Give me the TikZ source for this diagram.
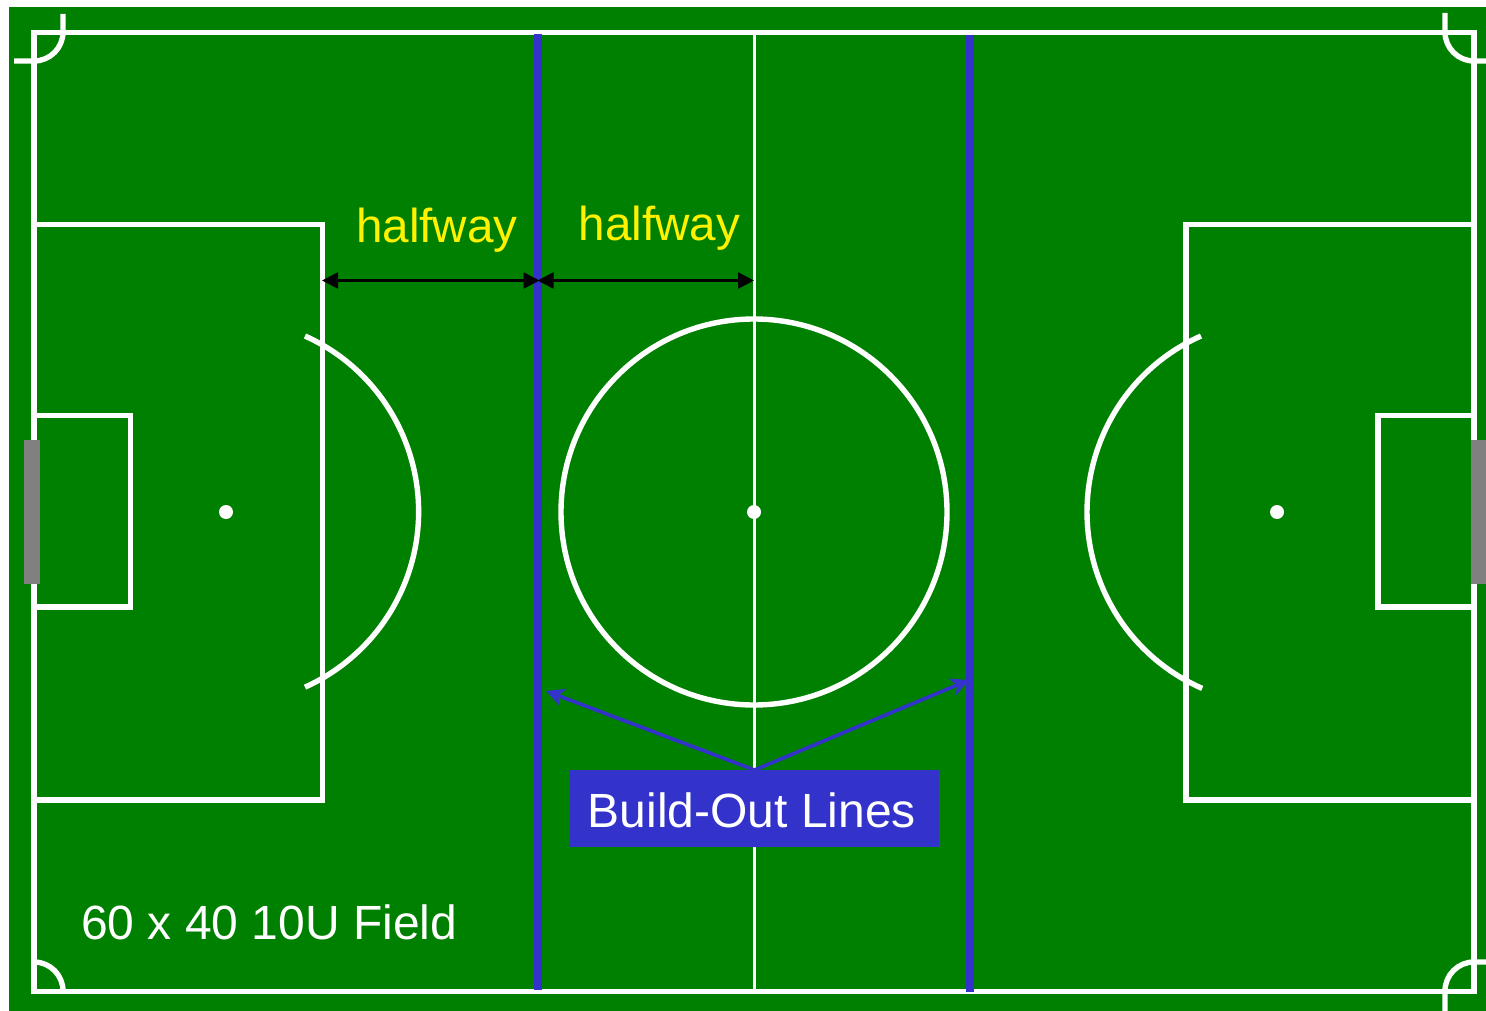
\documentclass[tikz,border=0pt]{standalone}
\usepackage{fontspec}
\setmainfont{Liberation Sans}
\usetikzlibrary{arrows.meta}
\definecolor{pitch}{HTML}{008000}
\definecolor{buildblue}{HTML}{3333CC}
\definecolor{goalgray}{HTML}{808080}
\tikzset{
  whiteline/.style={draw=white,line width=5.4pt},
  thinline/.style={draw=white,line width=2.8pt},
  spotdot/.style={fill=white,draw=none},
  buildline/.style={draw=buildblue,line width=8pt},
  measure/.style={draw=black,line width=2.5pt,{Triangle[length=16pt,width=16pt]}-{Triangle[length=16pt,width=16pt]},shorten <=-1pt,shorten >=-1pt},
  pointer/.style={draw=buildblue,line width=3.6pt,-{Stealth[length=18pt,width=18pt,inset=5pt]}},
  ylabel/.style={text=yellow,font=\fontsize{47.6}{48}\selectfont,anchor=base west,inner sep=0pt},
  wlabel/.style={text=white,font=\fontsize{48}{48}\selectfont,anchor=base west,inner sep=0pt},
}
\begin{document}
\begin{tikzpicture}[x=1pt,y=-1pt]
\useasboundingbox (0,0) rectangle (1486,1011);
\fill[white] (0,0) rectangle (1486,1011);
\fill[pitch] (9,7) rectangle (1486,1011);
% centre line and boundary
\draw[thinline] (754.5,32.5) -- (754.5,991.5);
\draw[whiteline] (34,32.5) rectangle (1474,991.5);
% left end
\draw[whiteline] (34,224.7) rectangle (322.5,800);
\draw[whiteline] (34,415.7) rectangle (130.3,607);
\draw[whiteline] (305,336) arc[start angle=65.8,end angle=-65.8,radius=192.5pt];
% right end
\draw[whiteline] (1474,224.7) rectangle (1186,800);
\draw[whiteline] (1474,415.7) rectangle (1378,607);
\draw[whiteline] (1201,336) arc[start angle=113.6,end angle=246.8,x radius=190pt,y radius=192pt];
% centre circle and spots
\draw[whiteline] (754,512) circle[radius=193pt];
\fill[spotdot] (226,512) circle[radius=7pt];
\fill[spotdot] (754,512) circle[radius=7pt];
\fill[spotdot] (1277,512) circle[radius=7pt];
% corner arcs
\draw[whiteline] (14,61) -- (34,61) arc[start angle=-90,end angle=0,radius=29pt] -- (63,14);
\draw[whiteline] (1445,13) -- (1445,32) arc[start angle=180,end angle=270,radius=29pt] -- (1486,61);
\draw[whiteline] (34,962) arc[start angle=90,end angle=0,radius=29pt];
\draw[whiteline] (1445,1011) -- (1445,991) arc[start angle=180,end angle=90,radius=29pt] -- (1486,962);
% goals
\fill[goalgray] (24,440) rectangle (40,584);
\fill[goalgray] (1471,440) rectangle (1486,584);
% build-out lines
\draw[buildline] (538,34) -- (538,990);
\draw[buildline] (970,35) -- (970,992);
% measures
\coordinate (penL) at (323,280.5);
\coordinate (bolL) at (538.5,280.5);
\coordinate (mid) at (753,280.5);
\draw[measure] (penL) -- (bolL);
\draw[measure] (bolL) -- (mid);
\node[ylabel] (hw1) at (356,243) {halfway};
\node[ylabel] (hw2) at (578.5,240.5) {halfway};
% label box and pointers
\node[fill=buildblue,minimum width=369.5pt,minimum height=77pt,inner sep=0pt,anchor=north west] (box) at (569.5,770) {};
\node[wlabel] (boxtext) at (587.5,827) {Build-Out Lines};
\coordinate (tipL) at (546,691);
\coordinate (tipR) at (969,680);
\coordinate (apex) at (754.5,770);
\draw[pointer] (apex) -- (tipL);
\draw[pointer] (apex) -- (tipR);
\node[wlabel] (fieldtext) at (81,939) {60 x 40 10U Field};
\end{tikzpicture}
\end{document}
